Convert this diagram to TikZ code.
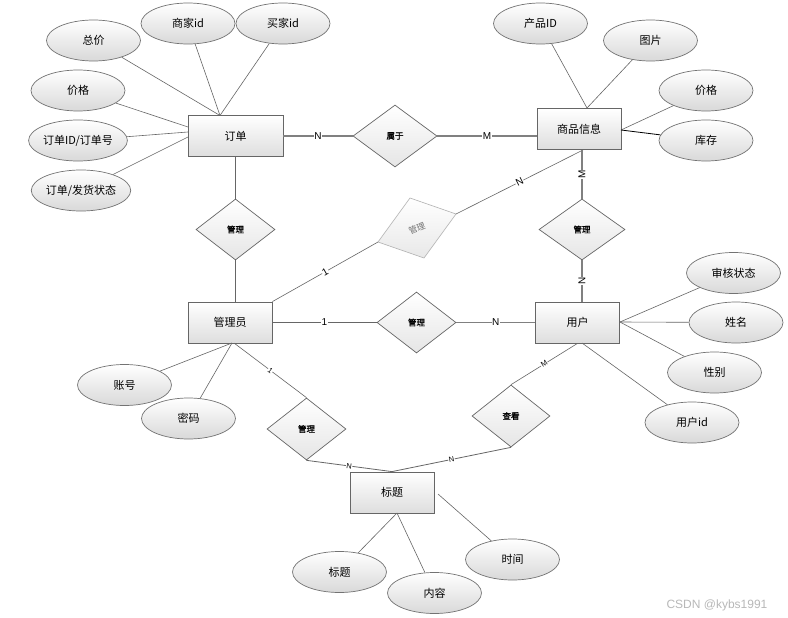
\documentclass[tikz,border=0pt]{standalone}
\usepackage{fontspec}
\setmainfont{Noto Sans CJK SC}
\newfontfamily\relfont[FakeBold=1.2]{Noto Sans CJK SC}
\newfontfamily\cardfont{Liberation Sans}
\usetikzlibrary{shapes.geometric}
\begin{document}
\begin{tikzpicture}[x=1pt,y=-1pt,
  ent/.style={rectangle, draw=black!60, line width=0.8pt, top color=white, bottom color=black!13,
    minimum width=84pt, minimum height=41pt, inner sep=0pt, font=\fontsize{11}{13}\selectfont},
  attr/.style={ellipse, draw=black!55, line width=0.7pt, top color=white, bottom color=black!15,
    minimum width=94pt, minimum height=41pt, inner sep=0pt, font=\fontsize{11}{13}\selectfont},
  rel/.style={diamond, draw=black!60, line width=0.7pt, top color=white, bottom color=black!10,
    minimum width=79pt, minimum height=61pt, inner sep=0pt, font=\relfont\fontsize{8.5}{10}\selectfont},
  lk/.style={draw=black!60, line width=0.6pt},
  rk/.style={draw=black!50, line width=1.1pt},
  card/.style={font=\cardfont\fontsize{10}{10}\selectfont, fill=white, inner sep=0.6pt},
  cardsm/.style={font=\cardfont\fontsize{7.5}{8}\selectfont, fill=white, inner sep=0.5pt},
]
\path[use as bounding box, fill=white] (0,0) rectangle (788,618);

% entities
\node[ent, minimum width=95pt] (dingdan) at (235.5,136) {订单};
\node[ent] (shangpin) at (579,129) {商品信息};
\node[ent] (admin) at (230,322.5) {管理员};
\node[ent] (user) at (577.5,322.5) {用户};
\node[ent] (biaoti) at (392,492.5) {标题};

% relationships
\node[rel, minimum width=84pt, minimum height=62pt] (shuyu) at (395,136) {属于};
\node[rel] (gla) at (235.5,229.5) {管理};
\node[rel, minimum width=86pt] (glb) at (582,229.5) {管理};
\node[rel] (glc) at (416.5,322.5) {管理};
\node[rel, minimum height=62pt] (gld) at (306.5,429) {管理};
\node[rel, minimum width=78pt, minimum height=62pt] (chakan) at (511,416) {查看};

% tilted relationship
\coordinate (tL) at (378,242);
\coordinate (tT) at (410,198);
\coordinate (tR) at (456,214);
\coordinate (tB) at (424,258);
\draw[draw=black!30, line width=0.6pt, top color=white, bottom color=black!9] (tL) -- (tT) -- (tR) -- (tB) -- cycle;
\node[rotate=22, text=black!55, inner sep=0pt, font=\fontsize{8.5}{10}\selectfont] (gltilt) at (417,228) {管理};

% attributes
\node[attr] (zongjia) at (93.5,40.5) {总价};
\node[attr] (shangjia) at (188,23.5) {商家id};
\node[attr] (maijia) at (283,23.5) {买家id};
\node[attr] (jiagea) at (78,90.5) {价格};
\node[attr] (ddid) at (78,140.5) {订单ID/订单号};
\node[attr] (ddzt) at (81,190.5) {订单/发货状态};
\node[attr] (cpid) at (540.5,23.5) {产品ID};
\node[attr] (tupian) at (650.5,40.5) {图片};
\node[attr] (jiageb) at (706,90.5) {价格};
\node[attr] (kucun) at (706,140.5) {库存};
\node[attr] (shzt) at (733.5,273) {审核状态};
\node[attr] (xingming) at (736,322.5) {姓名};
\node[attr] (xingbie) at (714.5,372.5) {性别};
\node[attr] (yhid) at (692,422.5) {用户id};
\node[attr] (zhanghao) at (124.5,385) {账号};
\node[attr] (mima) at (188.5,418.5) {密码};
\node[attr] (btattr) at (339.5,572) {标题};
\node[attr] (neirong) at (434.5,593) {内容};
\node[attr] (shijian) at (512.5,559.5) {时间};

% attachment points
\coordinate (oT) at (220,115.5);
\coordinate (oLa) at (188,127);
\coordinate (oLb) at (188,132);
\coordinate (oLc) at (188,137);
\coordinate (sT) at (587,108);
\coordinate (sR) at (621,130);
\coordinate (aB) at (232,343);
\coordinate (aBr) at (234,343);
\coordinate (uR) at (620,322);
\coordinate (uB) at (582,343);
\coordinate (bB) at (397,513);
\coordinate (bR) at (438,494);
\coordinate (sB) at (583,150);

% attribute links
\draw[lk] (zongjia) -- (oT);
\draw[lk] (shangjia) -- (oT);
\draw[lk] (maijia) -- (oT);
\draw[lk] (jiagea) -- (oLa);
\draw[lk] (ddid) -- (oLb);
\draw[lk] (ddzt) -- (oLc);
\draw[lk] (cpid) -- (sT);
\draw[lk] (tupian) -- (sT);
\draw[lk] (jiageb) -- (sR);
\draw[draw=black, line width=0.8pt] (kucun) -- (sR);
\draw[lk] (shzt) -- (uR);
\draw[lk] (xingming) -- (uR);
\draw[lk] (xingbie) -- (uR);
\draw[lk] (yhid) -- (uB);
\draw[lk] (zhanghao) -- (aB);
\draw[lk] (mima) -- (aB);
\draw[lk] (btattr) -- (bB);
\draw[lk] (neirong) -- (bB);
\draw[lk] (shijian) -- (bR);

% relationship links
\draw[rk] (dingdan) -- node[card]{N} (shuyu);
\draw[rk] (shuyu.east) -- node[card]{M} (shuyu.east -| shangpin.west);
\draw[lk, line width=0.8pt] (dingdan.south -| gla.north) -- (gla.north);
\draw[lk, line width=0.8pt] (gla.south) -- (gla.south |- admin.north);
\draw[lk] (admin.north east) -- node[card, sloped]{1} (tL);
\draw[lk] (tR) -- node[card, sloped]{N} (sB);
\draw[rk] (glb.north |- shangpin.south) -- node[card, rotate=90]{M} (glb.north);
\draw[rk] (glb.south) -- node[card, rotate=90]{N} (glb.south |- user.north);
\draw[lk, line width=0.8pt] (admin) -- node[card]{1} (glc);
\draw[rk] (glc) -- node[card]{N} (user);
\draw[lk] (aBr) -- node[cardsm, sloped]{1} (gld.north);
\draw[lk, line width=0.8pt] (gld.south) -- node[cardsm, sloped]{N} (biaoti.north);
\draw[lk, line width=0.8pt] (biaoti.north) -- node[cardsm, sloped]{N} (chakan.south);
\draw[lk] (chakan.north) -- node[cardsm, sloped]{M} (user.south);

% watermark
\node[font=\cardfont\fontsize{12}{12}\selectfont, text=black!28] (wm) at (717,605) {CSDN @kybs1991};
\end{tikzpicture}
\end{document}
